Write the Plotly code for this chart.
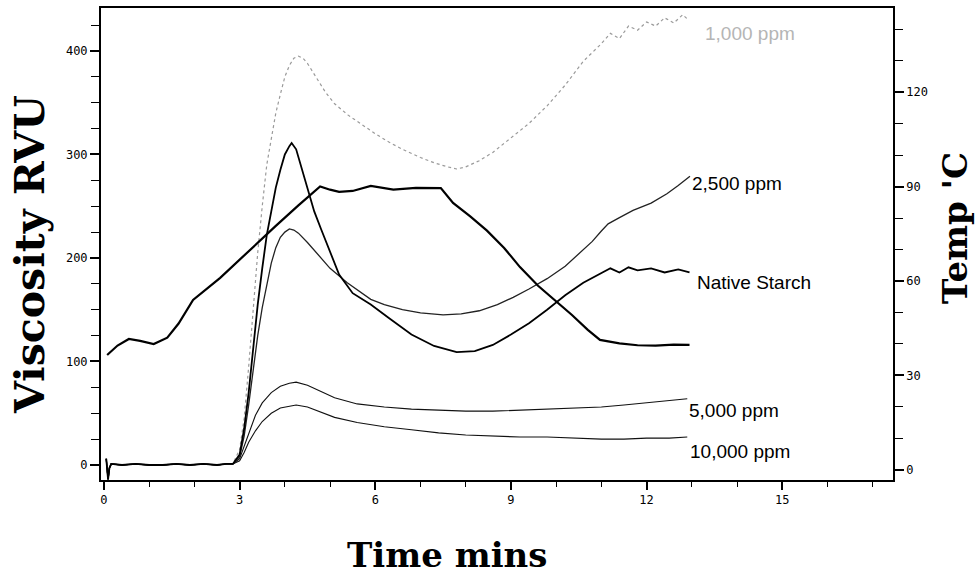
import plotly.graph_objects as go

# ---------------- data ----------------
base_t = [0.05, 0.09, 0.12, 0.16, 0.4, 0.7, 1.0, 1.3, 1.6, 1.9, 2.2, 2.5, 2.7, 2.85]
base_v = [6, -14, -3, 1, 0, 1, 0, 0, 1, 0, 1, 0, 1, 1]

t_1000 = [3.0, 3.1, 3.2, 3.3, 3.4, 3.5, 3.6, 3.7, 3.8, 3.9, 4.0, 4.1, 4.2, 4.3, 4.4, 4.5,
          4.7, 4.9, 5.1, 5.4, 5.7, 6.0, 6.3, 6.6, 7.0, 7.3, 7.6, 7.8, 8.0, 8.3, 8.6, 9.0,
          9.4, 9.8, 10.2, 10.6, 11.0, 11.2, 11.4, 11.6, 11.8, 12.0, 12.2, 12.4, 12.6, 12.8, 12.9]
v_1000 = [15, 45, 95, 150, 205, 250, 290, 315, 340, 358, 375, 386, 393, 395, 393, 388,
          374, 360, 349, 338, 329, 320, 312, 305, 297, 292, 288, 286, 288, 294, 302, 316,
          330, 347, 367, 390, 407, 417, 412, 424, 420, 428, 424, 432, 427, 435, 431]

t_2500 = [3.0, 3.1, 3.2, 3.3, 3.4, 3.5, 3.6, 3.7, 3.8, 3.9, 4.0, 4.1, 4.2, 4.3, 4.5, 4.78,
          5.0, 5.38, 5.9, 6.2, 6.6, 7.0, 7.5, 7.9, 8.3, 8.7, 9.05, 9.4, 9.8, 10.2,
          10.53, 10.8, 11.0, 11.15, 11.4, 11.7, 12.1, 12.45, 12.7, 12.96]
v_2500 = [8, 28, 58, 92, 125, 152, 175, 195, 210, 220, 225, 228, 227, 224, 215, 201,
          190, 176, 160, 155, 150, 147, 145, 146, 149, 155, 162, 170, 180, 192,
          205, 216, 226, 233, 239, 246, 253, 262, 270, 279]

t_native = [3.0, 3.1, 3.2, 3.3, 3.4, 3.5, 3.6, 3.7, 3.8, 3.9, 4.0, 4.1, 4.15, 4.25, 4.35,
            4.5, 4.65, 4.8, 5.0, 5.2, 5.5, 5.9, 6.3, 6.8, 7.3, 7.8, 8.2, 8.6, 9.0, 9.4,
            9.8, 10.2, 10.6, 11.0, 11.2, 11.4, 11.6, 11.8, 12.1, 12.4, 12.7, 12.95]
v_native = [10, 35, 70, 115, 155, 190, 222, 245, 268, 285, 300, 308, 311, 305, 290,
            265, 245, 228, 206, 184, 166, 155, 142, 126, 115, 109, 110, 116, 126, 137,
            150, 164, 176, 185, 190, 186, 191, 188, 190, 186, 189, 186]

t_5000 = [3.0, 3.1, 3.2, 3.35, 3.5, 3.7, 3.9, 4.1, 4.25, 4.5, 4.8, 5.1, 5.6, 6.2, 6.8,
          7.4, 8.0, 8.6, 9.2, 9.8, 10.4, 11.0, 11.5, 12.0, 12.5, 12.9]
v_5000 = [6, 18, 32, 48, 60, 70, 76, 79, 80, 77, 71, 65, 59, 56, 54,
          53, 52, 52, 53, 54, 55, 56, 58, 60, 62, 64]

t_10000 = [3.0, 3.1, 3.2, 3.35, 3.5, 3.7, 3.9, 4.1, 4.25, 4.5, 4.8, 5.1, 5.6, 6.2, 6.8,
           7.4, 8.0, 8.6, 9.2, 9.8, 10.4, 11.0, 11.5, 12.0, 12.5, 12.9]
v_10000 = [4, 12, 22, 33, 42, 50, 55, 57, 58, 56, 51, 46, 41, 37, 34,
           31, 29, 28, 27, 27, 26, 25, 25, 26, 26, 27]

t_temp = [0.07, 0.3, 0.55, 0.8, 1.1, 1.4, 1.65, 1.97, 2.57, 3.2, 3.8, 4.3, 4.78, 5.0,
          5.2, 5.5, 5.9, 6.4, 6.9, 7.45, 7.72, 8.1, 8.47, 8.85, 9.2, 9.6, 10.0, 10.35,
          10.7, 10.97, 11.4, 11.8, 12.2, 12.6, 12.95]
v_temp = [36.5, 39.5, 41.6, 41.0, 40.0, 42.0, 46.5, 54.0, 61.0, 69.5, 77.5, 84.0, 90.0,
          89.0, 88.3, 88.6, 90.2, 89.0, 89.6, 89.5, 84.8, 80.5, 76.0, 70.5, 64.4, 58.5,
          53.5, 49.2, 44.5, 41.3, 40.2, 39.6, 39.5, 39.8, 39.7]

series_labels = ["1,000 ppm", "2,500 ppm", "Native Starch", "5,000 ppm", "10,000 ppm"]
label_t = [13.25, 12.96, 13.07, 12.9, 12.92]
label_v = [417, 272, 176, 53, 13]
x_ticks = [0, 3, 6, 9, 12, 15]
y_ticks = [0, 100, 200, 300, 400]
y2_ticks = [0, 30, 60, 90, 120]

# ---------------- figure ----------------
W, H = 979, 579
L, R, T, B = 101, 893, 8, 480


def px(xp):
    return (xp - L) / (R - L)


def py(yp):
    return (B - yp) / (B - T)


fig = go.Figure()


def add_series(t, v, color, width, dash="solid"):
    fig.add_trace(go.Scatter(x=base_t + t, y=base_v + v, mode="lines",
                             line=dict(color=color, width=width, dash=dash),
                             showlegend=False, hoverinfo="skip"))


add_series(t_1000, v_1000, "#9a9a9a", 1.2, "dot")
add_series(t_10000, v_10000, "#111111", 1.1)
add_series(t_5000, v_5000, "#111111", 1.1)
add_series(t_2500, v_2500, "#222222", 1.3)
add_series(t_native, v_native, "#000000", 1.8)
fig.add_trace(go.Scatter(x=t_temp, y=v_temp, mode="lines",
                         line=dict(color="#000000", width=2.2), yaxis="y2",
                         showlegend=False, hoverinfo="skip"))

tickfont = dict(family="DejaVu Sans Mono", size=12, color="#000")

fig.update_layout(
    width=W, height=H,
    margin=dict(l=L, r=W - R, t=T, b=H - B, pad=0, autoexpand=False),
    paper_bgcolor="white", plot_bgcolor="white",
    xaxis=dict(range=[-0.066, 17.45], tickvals=x_ticks, ticktext=[str(v) for v in x_ticks],
               ticks="outside", ticklen=8, tickwidth=1.5, tickcolor="#000",
               minor=dict(dtick=1, tick0=0, ticks="outside", ticklen=5, tickwidth=1.2, tickcolor="#000"),
               showline=True, linecolor="#000", linewidth=2, mirror=True, automargin=False,
               showgrid=False, zeroline=False, tickfont=tickfont),
    yaxis=dict(range=[-14.5, 441.5], tickvals=y_ticks, ticktext=[str(v) for v in y_ticks],
               ticks="outside", ticklen=9, tickwidth=1.5, tickcolor="#000",
               minor=dict(dtick=25, tick0=0, ticks="outside", ticklen=8, tickwidth=1.2, tickcolor="#000"),
               showline=True, linecolor="#000", linewidth=2, automargin=False,
               showgrid=False, zeroline=False, tickfont=tickfont),
    yaxis2=dict(range=[-3.2, 146.7], tickvals=y2_ticks, ticktext=[str(v) for v in y2_ticks],
                overlaying="y", side="right", anchor="x", automargin=False,
                ticks="outside", ticklen=9, tickwidth=1.5, tickcolor="#000",
                minor=dict(dtick=10, tick0=0, ticks="outside", ticklen=8, tickwidth=1.2, tickcolor="#000"),
                showline=True, linecolor="#000", linewidth=1.6,
                showgrid=False, zeroline=False, tickfont=tickfont),
)

# series labels
label_colors = ["#b5b5b5", "#000", "#000", "#000", "#000"]
for xe, ye, txt, col in zip(label_t, label_v, series_labels, label_colors):
    fig.add_annotation(x=xe, y=ye, xref="x", yref="y", text=txt, showarrow=False,
                       xanchor="left", yanchor="middle",
                       font=dict(family="Liberation Sans", size=19, color=col))

# axis titles
fig.add_annotation(x=px(447), y=py(555), xref="paper", yref="paper", text="<b>Time mins</b>",
                   showarrow=False, xanchor="center", yanchor="middle",
                   font=dict(family="DejaVu Serif", size=34, color="#000"))
fig.add_annotation(x=px(30), y=py(255), xref="paper", yref="paper", text="<b>Viscosity RVU</b>",
                   showarrow=False, xanchor="center", yanchor="middle", textangle=-90,
                   font=dict(family="DejaVu Serif", size=41, color="#000"))
fig.add_annotation(x=px(955), y=py(228), xref="paper", yref="paper", text="<b>Temp 'C</b>",
                   showarrow=False, xanchor="center", yanchor="middle", textangle=-90,
                   font=dict(family="DejaVu Serif", size=34, color="#000"))

fig.write_html("out.html", config={"displayModeBar": False},
               post_script="document.body.style.margin='0';document.body.style.overflow='hidden';")
